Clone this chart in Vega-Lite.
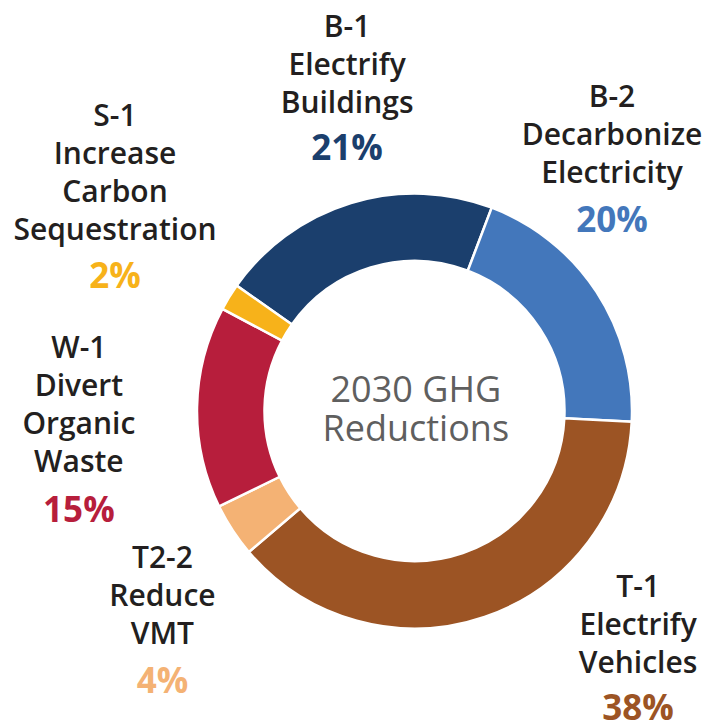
{
  "$schema": "https://vega.github.io/schema/vega-lite/v6.json",
  "width": 719,
  "height": 724,
  "autosize": {"type": "none"},
  "padding": 0,
  "background": "white",
  "config": {"view": {"stroke": null}},
  "datasets": {
    "slices": [
      {"id": "B-1", "rank": 1, "value": 21, "name": "B-1\nElectrify\nBuildings", "pct": "21%", "lx": -31.0, "ly": 172.0, "py": 115.4},
      {"id": "B-2", "rank": 2, "value": 20, "name": "B-2\nDecarbonize\nElectricity", "pct": "20%", "lx": 90.8, "ly": 139.8, "py": 82.4},
      {"id": "T-1", "rank": 3, "value": 38, "name": "T-1\nElectrify\nVehicles", "pct": "38%", "lx": 102.8, "ly": -85.5, "py": -142.1},
      {"id": "T2-2", "rank": 4, "value": 4, "name": "T2-2\nReduce\nVMT", "pct": "4%", "lx": -115.9, "ly": -72.2, "py": -129.5},
      {"id": "W-1", "rank": 5, "value": 15, "name": "W-1\nDivert\nOrganic\nWaste", "pct": "15%", "lx": -154.3, "ly": 24.2, "py": -50.9},
      {"id": "S-1", "rank": 6, "value": 2, "name": "S-1\nIncrease\nCarbon\nSequestration", "pct": "2%", "lx": -137.7, "ly": 131.0, "py": 56.6}
    ],
    "center": [{"name": "2030 GHG\nReductions", "lx": 0.6, "ly": 4.3}]
  },
  "layer": [
    {
      "data": {"name": "slices"},
      "mark": {"type": "arc", "innerRadius": 150, "outerRadius": 217.5, "stroke": "white", "strokeWidth": 2.5},
      "encoding": {
        "x": {"datum": 0, "type": "quantitative", "scale": {"domain": [-190.57, 140.0], "nice": false, "zero": false}, "axis": null},
        "y": {"datum": 0, "type": "quantitative", "scale": {"domain": [-143.91, 188.97], "nice": false, "zero": false}, "axis": null},
        "theta": {"field": "value", "type": "quantitative", "stack": true, "scale": {"range": [-0.9564, 5.3268]}},
        "order": {"field": "rank", "type": "quantitative"},
        "color": {
          "field": "id", "type": "nominal", "legend": null,
          "scale": {"domain": ["B-1", "B-2", "T-1", "T2-2", "W-1", "S-1"], "range": ["#1b3f6d", "#4377bb", "#9c5424", "#f4b274", "#b71e3c", "#f7b21a"]}
        }
      }
    },
    {
      "data": {"name": "slices"},
      "mark": {"type": "text", "font": "Open Sans", "fontWeight": 600, "fontSize": 30, "lineHeight": 38, "lineBreak": "\n", "align": "center", "baseline": "alphabetic", "color": "#231f20"},
      "encoding": {
        "x": {"field": "lx", "type": "quantitative", "scale": {"domain": [-190.57, 140.0], "nice": false, "zero": false}, "axis": null},
        "y": {"field": "ly", "type": "quantitative", "scale": {"domain": [-143.91, 188.97], "nice": false, "zero": false}, "axis": null},
        "text": {"field": "name"}
      }
    },
    {
      "data": {"name": "slices"},
      "mark": {"type": "text", "font": "Open Sans", "fontWeight": "bold", "fontSize": 35, "align": "center", "baseline": "alphabetic"},
      "encoding": {
        "x": {"field": "lx", "type": "quantitative", "axis": null},
        "y": {"field": "py", "type": "quantitative", "axis": null},
        "text": {"field": "pct"},
        "color": {"field": "id", "type": "nominal", "legend": null}
      }
    },
    {
      "data": {"name": "center"},
      "mark": {"type": "text", "font": "Open Sans", "fontWeight": "normal", "fontSize": 36, "lineHeight": 39.5, "lineBreak": "\n", "align": "center", "baseline": "alphabetic", "color": "#5f5f5f"},
      "encoding": {
        "x": {"field": "lx", "type": "quantitative", "axis": null},
        "y": {"field": "ly", "type": "quantitative", "axis": null},
        "text": {"field": "name"}
      }
    }
  ]
}
